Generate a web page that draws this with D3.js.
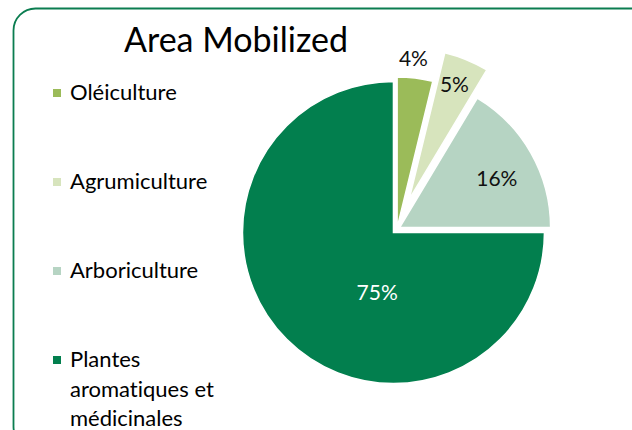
<!DOCTYPE html>
<html>
<head>
<meta charset="utf-8">
<script src="https://cdn.jsdelivr.net/npm/d3@7"></script>
<style>
  body { margin: 0; background: #fff; }
  svg { display: block; font-variant-ligatures: none; }
</style>
</head>
<body>
<div id="chart"></div>
<script>
var categories = ["Oléiculture", "Agrumiculture", "Arboriculture", "Plantes aromatiques et médicinales"];
var legendLines = [["Oléiculture"], ["Agrumiculture"], ["Arboriculture"], ["Plantes", "aromatiques et", "médicinales"]];
var shares = [3.8, 4.8, 16.4, 75];
var colors = ["#9bbb59", "#d7e4bd", "#b6d4c3", "#027f4e"];
var explode = [1, 32, 3, 5];
// where the % label sits: fraction of slice span, fraction of radius
var labelAt = [[0.4, 1.13], [0.45, 0.82], [0.55, 0.72], [0.39, 0.41]];
var labelColors = ["#111", "#111", "#111", "#fff"];

var w = 632, h = 430;
var cx = 397, cy = 229, r = 151;

var svg = d3.select("#chart")
    .append("svg")
    .attr("width", w)
    .attr("height", h)
    .style("font-family", "Lato, 'Open Sans', sans-serif");

// rounded frame
svg.append("rect")
    .attr("x", 13.5)
    .attr("y", 8.5)
    .attr("width", 640)
    .attr("height", 440)
    .attr("rx", 22)
    .attr("fill", "none")
    .attr("stroke", "#0b7d50")
    .attr("stroke-width", 1.8);

svg.append("text")
    .attr("x", 236)
    .attr("y", 52)
    .attr("text-anchor", "middle")
    .attr("font-size", "34px")
    .attr("fill", "#000")
    .text("Area Mobilized");

var pie = d3.pie().sort(null).value(function(d) { return d; });
var arcs = pie(shares);
var arc = d3.arc().innerRadius(0).outerRadius(r);

function offset(d, i) {
    var mid = (d.startAngle + d.endAngle) / 2;
    return [Math.sin(mid) * explode[i], -Math.cos(mid) * explode[i]];
}

var g = svg.append("g").attr("transform", "translate(" + cx + "," + cy + ")");

g.selectAll("path")
    .data(arcs)
    .enter()
    .append("path")
    .attr("d", arc)
    .attr("transform", function(d, i) {
        var o = offset(d, i);
        return "translate(" + o[0] + "," + o[1] + ")";
    })
    .attr("fill", function(d, i) { return colors[i]; })
    .attr("stroke", "#fff")
    .attr("stroke-width", 1.5);

g.selectAll("text.pct")
    .data(arcs)
    .enter()
    .append("text")
    .attr("class", "pct")
    .attr("x", function(d, i) {
        var a = d.startAngle + (d.endAngle - d.startAngle) * labelAt[i][0];
        return offset(d, i)[0] + Math.sin(a) * r * labelAt[i][1];
    })
    .attr("y", function(d, i) {
        var a = d.startAngle + (d.endAngle - d.startAngle) * labelAt[i][0];
        return offset(d, i)[1] - Math.cos(a) * r * labelAt[i][1];
    })
    .attr("dy", "0.35em")
    .attr("text-anchor", "middle")
    .attr("font-size", "21px")
    .attr("fill", function(d, i) { return labelColors[i]; })
    .text(function(d) { return Math.round(d.data) + "%"; });

// legend
var legend = svg.selectAll("g.legend")
    .data(categories)
    .enter()
    .append("g")
    .attr("class", "legend")
    .attr("transform", function(d, i) { return "translate(53," + (100 + i * 89) + ")"; });

legend.append("rect")
    .attr("x", 0)
    .attr("y", -11)
    .attr("width", 8)
    .attr("height", 8)
    .attr("fill", function(d, i) { return colors[i]; });

legend.append("text")
    .attr("x", 17)
    .attr("font-size", "22px")
    .attr("fill", "#000")
    .selectAll("tspan")
    .data(function(d, i) { return legendLines[i]; })
    .enter()
    .append("tspan")
    .attr("x", 17)
    .attr("dy", function(d, j) { return j === 0 ? 0 : 29.7; })
    .text(function(d) { return d; });
</script>
</body>
</html>
